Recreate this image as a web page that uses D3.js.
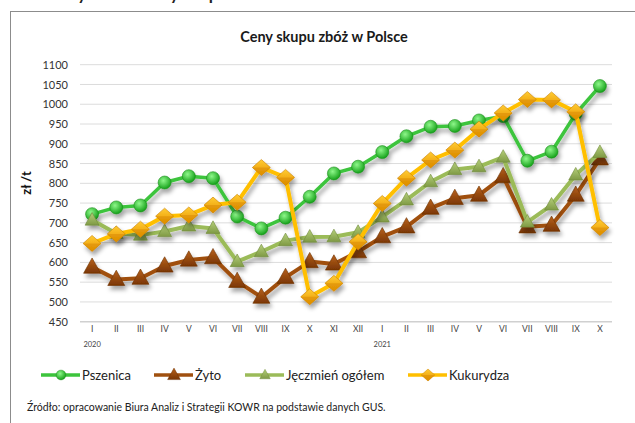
<!DOCTYPE html>
<html>
<head>
<meta charset="utf-8">
<script src="https://cdn.jsdelivr.net/npm/d3@7"></script>
<style>
  body { margin: 0; background: #fff; }
  svg { display: block; font-family: Lato, "Open Sans", sans-serif; }
</style>
</head>
<body>
<div id="chart"></div>
<script>
// months on the x axis (Jan 2020 .. Oct 2021)
var months = ["I","II","III","IV","V","VI","VII","VIII","IX","X","XI","XII",
              "I","II","III","IV","V","VI","VII","VIII","IX","X"];
var years = [{idx: 0, label: "2020"}, {idx: 12, label: "2021"}];
var yTicks = [450,500,550,600,650,700,750,800,850,900,950,1000,1050,1100];

// prices zł/t
var pszenica  = [722,739,744,802,818,813,716,686,713,766,825,842,879,919,943,945,959,970,857,880,976,1046];
var zyto      = [588,557,560,591,606,612,552,512,562,602,596,627,665,690,737,762,770,817,690,694,770,862];
var jeczmien  = [707,673,669,678,692,686,602,627,655,664,665,676,715,758,804,835,842,866,702,745,821,878];
var kukurydza = [648,672,684,717,720,745,752,840,815,513,547,652,749,813,859,884,937,978,1012,1011,981,688];

var seriesNames = ["Pszenica","Żyto","Jęczmień ogółem","Kukurydza"];

var W = 635, H = 423;
var svg = d3.select("#chart").append("svg").attr("width", W).attr("height", H);
var defs = svg.append("defs");

// soft shadow like the excel 3d look
var f = defs.append("filter").attr("id","shadow").attr("x","-50%").attr("y","-50%").attr("width","200%").attr("height","200%");
f.append("feDropShadow").attr("dx",2).attr("dy",4).attr("stdDeviation",2)
  .attr("flood-color","#000").attr("flood-opacity",0.35);

function radial(id, light, dark){
  var g = defs.append("radialGradient").attr("id",id).attr("cx","40%").attr("cy","35%").attr("r","65%");
  g.append("stop").attr("offset","0%").attr("stop-color",light);
  g.append("stop").attr("offset","100%").attr("stop-color",dark);
}
function linear(id, top, bottom){
  var g = defs.append("linearGradient").attr("id",id).attr("x1",0).attr("y1",0).attr("x2",0).attr("y2",1);
  g.append("stop").attr("offset","0%").attr("stop-color",top);
  g.append("stop").attr("offset","100%").attr("stop-color",bottom);
}
radial("gGreen","#8ef78a","#16a21a");
linear("gBrown","#b8621c","#7a3604");
linear("gOlive","#b5cf7a","#7f9a45");
linear("gOrange","#ffcc33","#e89400");

var series = [
  {name: seriesNames[0], values: pszenica,  line: "#3cc43c", width: 3.5, marker: "circle",   fill: "url(#gGreen)",  stroke: "#1c8f1c"},
  {name: seriesNames[1], values: zyto,      line: "#a0500f", width: 4,   marker: "triangle", fill: "url(#gBrown)",  stroke: "#6b3003", size: 17},
  {name: seriesNames[2], values: jeczmien,  line: "#9bbb59", width: 4,   marker: "triangle", fill: "url(#gOlive)",  stroke: "#6f8a3a", size: 14},
  {name: seriesNames[3], values: kukurydza, line: "#ffbf00", width: 4,   marker: "diamond",  fill: "url(#gOrange)", stroke: "#c98000"}
];

// frame + heading of the page, cut off at the top like in the source
svg.append("text").attr("x", 60).attr("y", 0).attr("font-size", 17).attr("font-weight", "bold")
  .attr("fill", "#222").text("Wykres 1. Ceny skupu zbóż w Polsce");
svg.append("rect").attr("x", 10.5).attr("y", 11.5).attr("width", 640).attr("height", 430)
  .attr("fill", "#fff").attr("stroke", "#8c8c8c").attr("stroke-width", 1);

svg.append("text").attr("x", 324).attr("y", 42).attr("text-anchor","middle")
  .attr("font-size", 14.5).attr("font-weight","bold").attr("fill","#1a1a1a")
  .text("Ceny skupu zbóż w Polsce");

var x = d3.scaleBand().domain(d3.range(months.length)).range([80, 612]);
var y = d3.scaleLinear().domain([450, 1100]).range([321.7, 64.7]);

// gridlines
svg.append("g").selectAll("line").data(yTicks).join("line")
  .attr("x1", 80).attr("x2", 612)
  .attr("y1", function(d){ return y(d); }).attr("y2", function(d){ return y(d); })
  .attr("stroke", function(d){ return d == 450 ? "#d0d0d0" : "#dcdcdc"; })
  .attr("stroke-width", function(d){ return d == 450 ? 1.5 : 1; });

// y axis labels
var yAxis = svg.append("g").attr("transform","translate(68,0)")
  .call(d3.axisLeft(y).tickValues(yTicks).tickFormat(d3.format("d")).tickSize(0).tickPadding(0));
yAxis.select(".domain").remove();
yAxis.selectAll("text").attr("font-size", 11).attr("fill","#333").attr("font-family","Lato, sans-serif");

svg.append("text").attr("transform","translate(31,183) rotate(-90)").attr("text-anchor","middle")
  .attr("font-size", 13).attr("font-weight","bold").attr("fill","#111").text("zł /t");

// x axis labels
var xAxis = svg.append("g").attr("transform","translate(0,326)")
  .call(d3.axisBottom(x).tickFormat(function(i){ return months[i]; }).tickSize(0).tickPadding(0));
xAxis.select(".domain").remove();
xAxis.selectAll("text").attr("font-size", 8.5).attr("fill","#444").attr("font-family","Lato, sans-serif");

svg.append("g").selectAll("text").data(years).join("text")
  .attr("x", function(d){ return x(d.idx) + x.bandwidth()/2; }).attr("y", 347)
  .attr("text-anchor","middle").attr("font-size", 7.5).attr("fill","#444")
  .text(function(d){ return d.label; });

function markerPath(s){
  if (s.marker == "triangle") {
    var a = s.size, h = a * 0.9;
    return "M0," + (-h*0.6) + "L" + (a/2) + "," + (h*0.4) + "L" + (-a/2) + "," + (h*0.4) + "Z";
  }
  if (s.marker == "diamond") return "M0,-8L9,0L0,8L-9,0Z";
  return null;
}
function drawMarker(g, s){
  if (s.marker == "circle") {
    g.append("circle").attr("r", 6.5).attr("fill", s.fill).attr("stroke", s.stroke).attr("stroke-width", 0.6);
  } else {
    g.append("path").attr("d", markerPath(s)).attr("fill", s.fill).attr("stroke", s.stroke).attr("stroke-width", 0.6);
    if (s.marker == "diamond") {
      g.append("path").attr("d","M-9,0L9,0L0,8Z").attr("fill","#d98a00").attr("opacity",0.55);
    }
  }
}

var line = d3.line().x(function(d,i){ return x(i) + x.bandwidth()/2; }).y(function(d){ return y(d); });

series.forEach(function(s){
  var g = svg.append("g").attr("filter","url(#shadow)");
  g.append("path").datum(s.values).attr("d", line).attr("fill","none")
    .attr("stroke", s.line).attr("stroke-width", s.width).attr("stroke-linejoin","round");
  s.values.forEach(function(v, i){
    var m = g.append("g").attr("transform","translate(" + (x(i) + x.bandwidth()/2) + "," + y(v) + ")");
    drawMarker(m, s);
  });
});

// legend
var legendX = [41, 154, 245, 408];
series.forEach(function(s, k){
  var lg = svg.append("g").attr("transform","translate(" + legendX[k] + ",375)");
  lg.append("line").attr("x1",0).attr("x2",39).attr("stroke", s.line).attr("stroke-width", 3.5);
  var m = lg.append("g").attr("transform","translate(20,0) scale(0.75)");
  drawMarker(m, s);
  lg.append("text").attr("x", 41).attr("y", 4.5).attr("font-size", 13).attr("fill","#222").text(s.name);
});

svg.append("text").attr("x", 27).attr("y", 411).attr("font-size", 10.5).attr("fill","#222")
  .text("Źródło: opracowanie Biura Analiz i Strategii KOWR na podstawie danych GUS.");
</script>
</body>
</html>
